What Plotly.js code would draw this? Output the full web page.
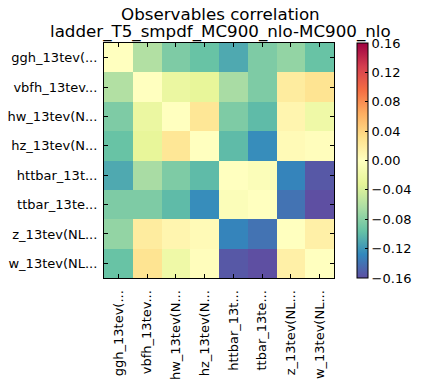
<!DOCTYPE html>
<html><head><meta charset="utf-8">
<script src="https://cdn.plot.ly/plotly-3.0.1.min.js"></script>
<style>html,body{margin:0;padding:0;background:#fff}#chart{width:427px;height:383px}</style>
</head><body><div id="chart"></div>
<script>
const labels = ["ggh_13tev(...", "vbfh_13tev...", "hw_13tev(N...", "hz_13tev(N...", "httbar_13t...", "ttbar_13te...", "z_13tev(NL...", "w_13tev(NL..."];
const rowGgh    = [0.000, -0.060, -0.085, -0.095, -0.110, -0.085, -0.075, -0.095];
const rowVbfh   = [-0.060, 0.000, -0.025, -0.030, -0.065, -0.085, 0.020, 0.028];
const rowHw     = [-0.085, -0.025, 0.000, 0.025, -0.085, -0.100, 0.010, -0.020];
const rowHz     = [-0.095, -0.030, 0.025, 0.000, -0.100, -0.125, 0.005, 0.002];
const rowHttbar = [-0.110, -0.065, -0.085, -0.100, 0.000, -0.005, -0.130, -0.155];
const rowTtbar  = [-0.085, -0.085, -0.100, -0.125, -0.005, 0.000, -0.140, -0.162];
const rowZ      = [-0.075, 0.020, 0.010, 0.005, -0.130, -0.140, 0.000, 0.015];
const rowW      = [-0.095, 0.028, -0.020, 0.002, -0.155, -0.162, 0.015, 0.000];
const cbTicks = [-0.16, -0.12, -0.08, -0.04, 0.00, 0.04, 0.08, 0.12, 0.16];
const titleLines = ["Observables correlation", "ladder_T5_smpdf_MC900_nlo-MC900_nlo"];

const spectralR = ["#5e4fa2","#3288bd","#66c2a5","#abdda4","#e6f598","#ffffbf","#fee08b","#fdae61","#f46d43","#d53e4f","#9e0142"];
const colorscale = spectralR.map((c,i)=>[i/(spectralR.length-1), c]);

const z = [rowGgh,rowVbfh,rowHw,rowHz,rowHttbar,rowTtbar,rowZ,rowW];
const font = {family:"DejaVu Sans", size:13, color:"#000"};

const data = [{
  type:"heatmap", z:z, x:labels, y:labels,
  zmin:-0.16, zmax:0.16, colorscale:colorscale,
  xgap:0, ygap:0, hoverinfo:"skip",
  colorbar:{
    x:1.098, xanchor:"left", xref:"paper", y:0.5, yanchor:"middle", len:1, lenmode:"fraction",
    thickness:11, xpad:0, ypad:0, outlinewidth:1, outlinecolor:"#000",
    tickvals:cbTicks, ticktext:cbTicks.map(v=>(v<0?"\u2212":"")+Math.abs(v).toFixed(2)),
    ticks:"inside", ticklen:3, tickcolor:"#000", ticklabelstandoff:3,
    tickfont:{family:"DejaVu Sans", size:13, color:"#000"}
  }
}];

const axisCommon = {
  type:"category", showline:true, linecolor:"#000", linewidth:1, mirror:"ticks",
  ticks:"inside", ticklen:4, tickcolor:"#000", showgrid:false, zeroline:false, tickfont:font, fixedrange:true
};

const titleFont = {family:"DejaVu Sans", size:16.7, color:"#000"};
const layout = {
  width:427, height:383,
  margin:{l:104, r:88, t:43, b:105, pad:0},
  paper_bgcolor:"#fff", plot_bgcolor:"#fff",
  xaxis:Object.assign({}, axisCommon, {tickangle:-90, ticklabelstandoff:6}),
  yaxis:Object.assign({}, axisCommon, {autorange:"reversed", ticklabelstandoff:3}),
  annotations:[
    {text:titleLines[0], xref:"paper", yref:"paper", x:0.506, y:1.1247, xanchor:"center", yanchor:"middle", showarrow:false, font:titleFont},
    {text:titleLines[1], xref:"paper", yref:"paper", x:0.506, y:1.0489, xanchor:"center", yanchor:"middle", showarrow:false, font:titleFont}
  ]
};

Plotly.newPlot("chart", data, layout, {staticPlot:true, displayModeBar:false});
</script></body></html>
